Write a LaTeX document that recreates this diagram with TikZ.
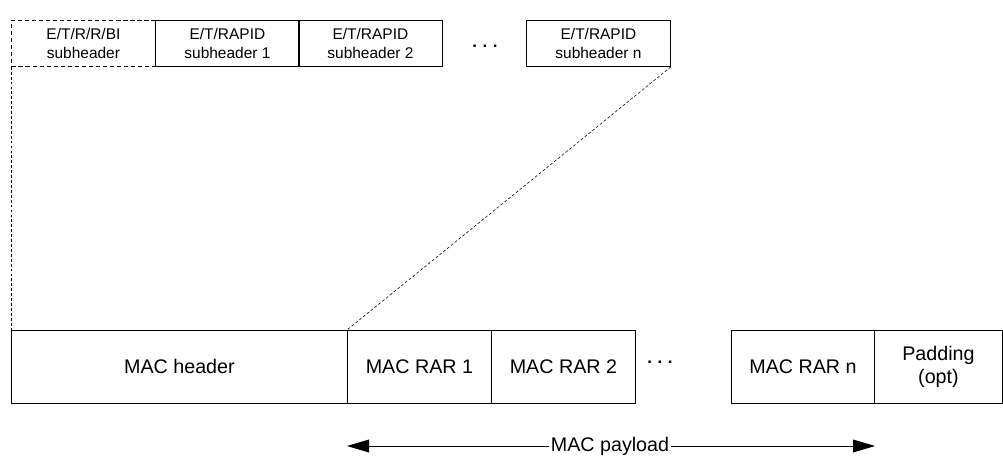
\documentclass[tikz,border=0pt]{standalone}
\usepackage{fontspec}
\setmainfont{Liberation Sans}
\usetikzlibrary{arrows.meta}

\begin{document}
\begin{tikzpicture}[x=0.025cm, y=-0.025cm, line width=0.6pt,
  subbox/.style={draw, rectangle, anchor=north west, minimum width=3.6cm,
    minimum height=1.15cm, inner sep=0pt, align=center, font=\fontsize{11pt}{13pt}\selectfont},
  pdubox/.style={draw, rectangle, anchor=north west, minimum height=1.825cm,
    inner sep=0pt, align=center, font=\fontsize{14pt}{17pt}\selectfont},
  link/.style={dashed, dash pattern=on 2pt off 1.5pt, line width=0.4pt}]
  \useasboundingbox (0,0) rectangle (1003,460);
  \node[subbox, dashed, dash pattern=on 3pt off 2pt] (sub0) at (11,20) {E/T/R/R/BI\\subheader};
  \node[subbox] (sub1) at (155,20) {E/T/RAPID\\subheader 1};
  \node[subbox] (sub2) at (298,20) {E/T/RAPID\\subheader 2};
  \node[font=\bfseries\fontsize{12pt}{14pt}\selectfont] (dots1) at (485,46) {.\,\,.\,\,.};
  \node[subbox] (subn) at (526,20) {E/T/RAPID\\subheader n};
  \node[pdubox, minimum width=8.4cm] (hdr) at (11,330) {MAC header};
  \node[pdubox, minimum width=3.6cm] (rar1) at (347,330) {MAC RAR 1};
  \node[pdubox, minimum width=3.6cm] (rar2) at (491,330) {MAC RAR 2};
  \node[font=\bfseries\fontsize{12pt}{14pt}\selectfont] (dots2) at (660,362) {.\,\,.\,\,.};
  \node[pdubox, minimum width=3.575cm] (rarn) at (731,330) {MAC RAR n};
  \node[pdubox, minimum width=3.2cm] (pad) at (874,330) {Padding\\(opt)};
  % Draw the expansion of the header
  \draw[link] (sub0.south west) -- (hdr.north west);
  \draw[link] (subn.south east) -- (rar1.north west);
  \coordinate (pl) at (347,446);
  \coordinate (pr) at (875,446);
  \node[font=\fontsize{14pt}{17pt}\selectfont, inner sep=1pt] (pay) at (610,446) {MAC payload};
  \draw[-{Triangle[length=0.55cm, width=0.32cm]}] (pay) -- (pl);
  \draw[-{Triangle[length=0.55cm, width=0.32cm]}] (pay) -- (pr);
\end{tikzpicture}
\end{document}
